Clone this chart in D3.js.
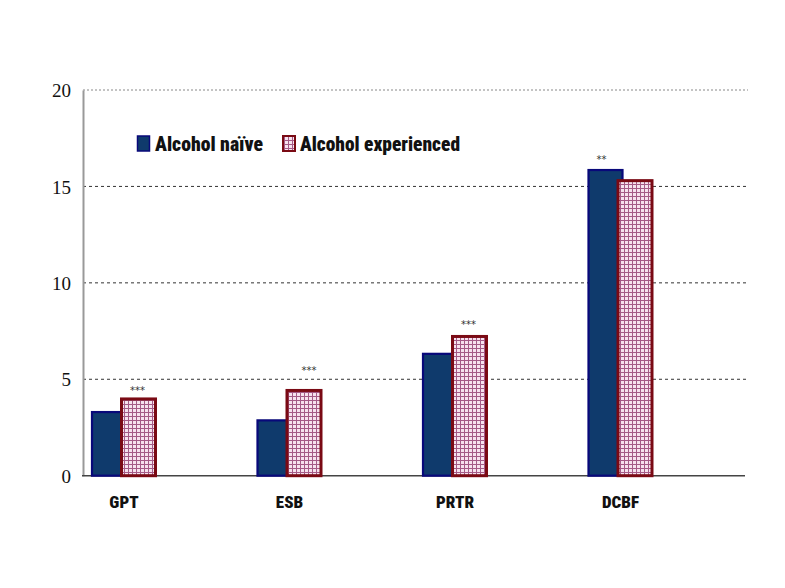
<!DOCTYPE html>
<html><head><meta charset="utf-8">
<script src="https://cdn.jsdelivr.net/npm/d3@7"></script>
<style>body{margin:0;background:#fff;}</style>
</head><body>
<script>
const categories = ["GPT", "ESB", "PRTR", "DCBF"];
const seriesNames = ["Alcohol naïve", "Alcohol experienced"];
const naive = [3.3, 2.87, 6.32, 15.85];
const experienced = [3.98, 4.42, 7.22, 15.3];
const yTicks = [0, 5, 10, 15, 20];
const sigLabels = ["***", "***", "***", "**"];
const sigSeries = [1, 1, 1, 0];
const sigLevels = [4.56, 5.6, 7.97, 16.52];

const W = 785, H = 588;
const svg = d3.select("body").append("svg").attr("width", W).attr("height", H);
const defs = svg.append("defs");
const pat = defs.append("pattern").attr("id", "grid").attr("patternUnits", "userSpaceOnUse")
  .attr("width", 4).attr("height", 4);
pat.append("rect").attr("width", 4).attr("height", 4).attr("fill", "#f6e2ee");
pat.append("path").attr("d", "M0,0.5H4M0.5,0V4").attr("stroke", "#a45a86").attr("stroke-width", 1);

const x0 = d3.scaleBand().domain(categories).range([83, 745]);
const y = d3.scaleLinear().domain([0, 20]).range([475.7, 90]);

// gridlines
svg.append("g").selectAll("line").data(yTicks.filter(d => d > 0)).join("line")
  .attr("x1", 83).attr("x2", 748)
  .attr("y1", d => y(d)).attr("y2", d => y(d))
  .attr("stroke", d => d === 20 ? "#888" : "#333")
  .attr("stroke-width", 1)
  .attr("stroke-dasharray", d => d === 20 ? "2,2" : "3,3");

// y axis
const yAxis = d3.axisLeft(y).tickValues(yTicks).tickSize(0).tickPadding(12);
const gy = svg.append("g").attr("transform", "translate(83,0)").call(yAxis);
gy.select(".domain").attr("stroke", "#999").attr("stroke-width", 2);
gy.selectAll("text").attr("font-family", "Liberation Serif, Times New Roman, serif")
  .attr("font-size", 19).attr("fill", "#111").attr("dy", "0.35em");

// bottom axis line
svg.append("line").attr("x1", 82).attr("x2", 745).attr("y1", y(0)).attr("y2", y(0))
  .attr("stroke", "#444").attr("stroke-width", 1.5);

// bars
const bw = 34;
const g = svg.append("g");
g.selectAll("rect.naive").data(categories).join("rect").attr("class", "naive")
  .attr("x", c => x0(c) + 9).attr("width", bw)
  .attr("y", (c, i) => y(naive[i])).attr("height", (c, i) => y(0) - y(naive[i]))
  .attr("fill", "#0f3a6c").attr("stroke", "#08087a").attr("stroke-width", 2.2);
g.selectAll("rect.exp").data(categories).join("rect").attr("class", "exp")
  .attr("x", c => x0(c) + 38.5).attr("width", bw)
  .attr("y", (c, i) => y(experienced[i])).attr("height", (c, i) => y(0) - y(experienced[i]))
  .attr("fill", "url(#grid)").attr("stroke", "#7a0a14").attr("stroke-width", 3);

// significance
svg.append("g").selectAll("text").data(categories).join("text")
  .attr("x", (c, i) => x0(c) + (sigSeries[i] === 1 ? 38.5 + bw / 2 + (i === 1 ? 5 : -1) : 9 + bw / 2 - 4))
  .attr("y", (c, i) => y(sigLevels[i]) + 6)
  .attr("text-anchor", "middle")
  .attr("font-family", "DejaVu Sans, sans-serif").attr("font-size", 10).attr("fill", "#333")
  .text((c, i) => sigLabels[i]);

// category labels
svg.append("g").selectAll("text").data(categories).join("text")
  .attr("x", c => x0(c) + 41).attr("y", 508)
  .attr("text-anchor", "middle")
  .attr("font-family", "Liberation Sans Narrow, Roboto Condensed, Arial Narrow, Roboto, sans-serif")
  .attr("font-weight", "900").attr("font-size", 17).attr("fill", "#111")
  .text(c => c);

// legend
const leg = svg.append("g");
const legFont = "Liberation Sans Narrow, Roboto Condensed, Arial Narrow, Roboto, sans-serif";
leg.append("rect").attr("x", 137.5).attr("y", 136).attr("width", 12).attr("height", 15)
  .attr("fill", "#0f3a6c").attr("stroke", "#08087a").attr("stroke-width", 1.5);
leg.append("text").attr("x", 155).attr("y", 151)
  .attr("font-family", legFont)
  .attr("font-weight", "900").attr("font-size", 21).attr("fill", "#111")
  .attr("textLength", 108).attr("lengthAdjust", "spacingAndGlyphs")
  .text(seriesNames[0]);
leg.append("rect").attr("x", 283).attr("y", 136).attr("width", 12).attr("height", 15)
  .attr("fill", "url(#grid)").attr("stroke", "#7a0a14").attr("stroke-width", 2);
leg.append("text").attr("x", 300).attr("y", 151)
  .attr("font-family", legFont)
  .attr("font-weight", "900").attr("font-size", 21).attr("fill", "#111")
  .attr("textLength", 160).attr("lengthAdjust", "spacingAndGlyphs")
  .text(seriesNames[1]);
</script>
</body></html>
